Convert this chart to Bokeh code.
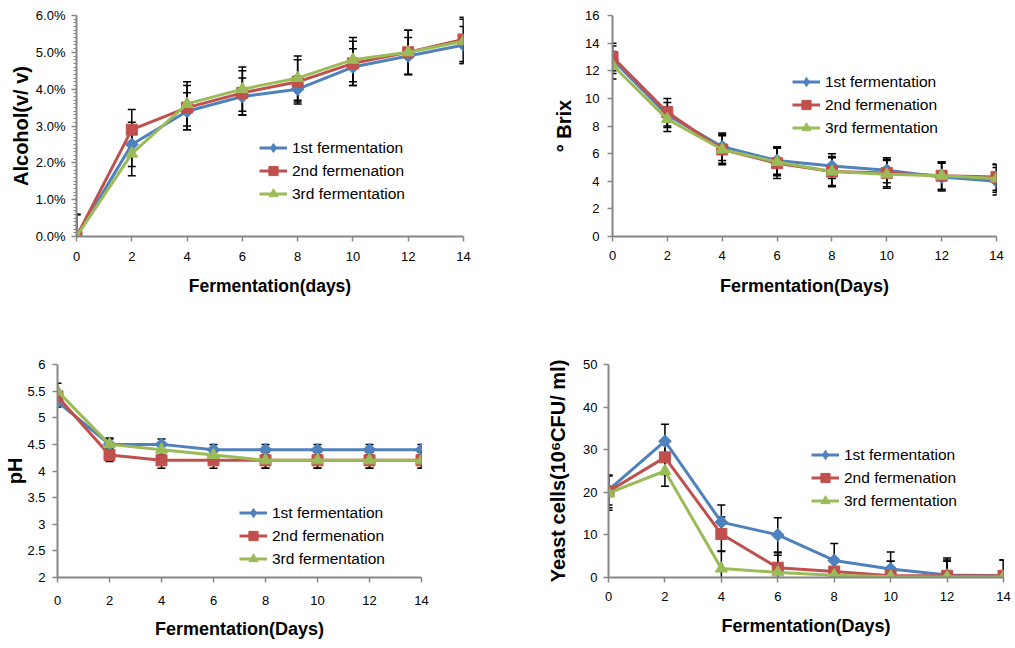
import math
from bokeh.plotting import figure
from bokeh.layouts import column, row
from bokeh.models import (Range1d, FixedTicker, SingleIntervalTicker, PrintfTickFormatter,
                          NumeralTickFormatter, ColumnDataSource)
from bokeh.embed import file_html
from bokeh.resources import INLINE

# ---------------- data ----------------
days = [0, 2, 4, 6, 8, 10, 12, 14]
series_names = ["1st fermentation", "2nd fermenation", "3rd fermentation"]

alcohol_1 = [0.0, 2.5, 3.4, 3.8, 4.0, 4.6, 4.9, 5.2]
alcohol_2 = [0.0, 2.9, 3.5, 3.9, 4.2, 4.7, 5.0, 5.35]
alcohol_3 = [0.0, 2.25, 3.6, 4.0, 4.3, 4.8, 5.0, 5.3]
alcohol_err_1 = [0.6, 0.6, 0.5, 0.5, 0.35, 0.5, 0.5, 0.5]
alcohol_err_2 = [0.6, 0.55, 0.6, 0.6, 0.6, 0.6, 0.6, 0.6]
alcohol_err_3 = [0.6, 0.6, 0.6, 0.6, 0.6, 0.6, 0.6, 0.6]

brix_1 = [12.8, 8.8, 6.5, 5.5, 5.1, 4.8, 4.3, 4.0]
brix_2 = [13.0, 9.0, 6.3, 5.3, 4.7, 4.6, 4.4, 4.3]
brix_3 = [12.4, 8.5, 6.3, 5.4, 4.7, 4.5, 4.4, 4.2]
brix_err_1 = [1.0, 0.9, 1.0, 1.0, 0.9, 0.9, 1.0, 1.0]
brix_err_2 = [1.0, 1.0, 1.1, 1.1, 1.1, 1.0, 1.0, 0.95]
brix_err_3 = [1.0, 0.9, 1.0, 1.0, 1.0, 1.0, 1.0, 1.0]

ph_1 = [5.3, 4.5, 4.5, 4.4, 4.4, 4.4, 4.4, 4.4]
ph_2 = [5.4, 4.3, 4.2, 4.2, 4.2, 4.2, 4.2, 4.2]
ph_3 = [5.5, 4.5, 4.4, 4.3, 4.2, 4.2, 4.2, 4.2]
ph_err_1 = [0.1, 0.1, 0.1, 0.1, 0.1, 0.1, 0.1, 0.1]
ph_err_2 = [0.1, 0.12, 0.15, 0.15, 0.15, 0.15, 0.15, 0.15]
ph_err_3 = [0.15, 0.12, 0.1, 0.1, 0.15, 0.15, 0.15, 0.15]

yeast_1 = [20.5, 32.0, 13.0, 10.0, 4.0, 2.0, 0.6, 0.4]
yeast_2 = [20.2, 28.2, 10.2, 2.3, 1.4, 0.4, 0.4, 0.4]
yeast_3 = [19.8, 25.0, 2.1, 1.2, 0.5, 0.2, 0.1, 0.1]
yeast_err_1 = [3.5, 4.0, 4.0, 4.0, 4.0, 4.0, 4.0, 3.7]
yeast_err_2 = [3.8, 4.0, 4.0, 3.5, 3.0, 3.4, 3.4, 3.7]
yeast_err_3 = [4.0, 3.6, 4.0, 4.0, 4.0, 3.6, 4.0, 4.0]

# ---------------- style ----------------
COLORS = ["#4F81BD", "#C0504D", "#9BBB59"]
MARKERS = ["square", "square", "triangle"]          # drawn in the plot
LEGEND_MARKERS = ["diamond", "square", "triangle"]  # drawn in the legend
ANGLES = [math.pi / 4, 0.0, 0.0]
MSIZES = [9, 11, 12]
AXIS_GREY = "#868686"
FONT = "Liberation Sans"


def panel(width, height, borders, y_range, y_interval, y_title, x_title, x_title_size,
          values, errors, legend_xy, y_fmt=None, minor=0,
          y_label_standoff=6, y_title_standoff=5, x_label_standoff=9, x_title_standoff=10):
    l, r, t, b = borders
    p = figure(width=width, height=height, x_range=Range1d(0, 14), y_range=Range1d(*y_range),
               output_backend="svg", toolbar_location=None,
               min_border_left=l, min_border_right=r, min_border_top=t, min_border_bottom=b)
    p.outline_line_color = None
    p.background_fill_color = "white"
    p.border_fill_color = "white"
    p.grid.visible = False

    p.xaxis.ticker = FixedTicker(ticks=days)
    p.yaxis.ticker = SingleIntervalTicker(interval=y_interval, num_minor_ticks=minor)
    if y_fmt is not None:
        p.yaxis.formatter = y_fmt

    for ax in (p.xaxis[0], p.yaxis[0]):
        ax.axis_line_color = AXIS_GREY
        ax.axis_line_width = 2
        ax.major_tick_line_color = AXIS_GREY
        ax.major_tick_line_width = 1.5
        ax.major_tick_in = 0
        ax.major_tick_out = 5
        ax.major_label_text_font = FONT
        ax.major_label_text_font_size = "13px"
        ax.major_label_text_color = "#000000"
        ax.axis_label_text_color = "#000000"
        ax.axis_label_text_font_style = "bold"
        ax.axis_label_text_font = FONT
    p.xaxis.minor_tick_line_color = None
    if minor:
        p.yaxis.minor_tick_line_color = AXIS_GREY
        p.yaxis.minor_tick_line_width = 1
        p.yaxis.minor_tick_in = 0
        p.yaxis.minor_tick_out = 3
    else:
        p.yaxis.minor_tick_line_color = None

    p.xaxis.axis_label = x_title
    p.xaxis.axis_label_text_font_size = x_title_size
    p.xaxis.major_label_standoff = x_label_standoff
    p.xaxis.axis_label_standoff = x_title_standoff

    p.yaxis.axis_label = y_title
    p.yaxis.axis_label_text_font_size = "20px"
    p.yaxis.major_label_standoff = y_label_standoff
    p.yaxis.axis_label_standoff = y_title_standoff

    sources = []
    for vals, errs in zip(values, errors):
        src = ColumnDataSource(dict(
            x=days, y=vals,
            top=[v + e for v, e in zip(vals, errs)],
            bot=[v - e for v, e in zip(vals, errs)]))
        sources.append(src)
        p.segment(x0="x", y0="bot", x1="x", y1="top", source=src,
                  line_color="black", line_width=1.5)
        p.scatter("x", "top", marker="dash", size=8, source=src,
                  line_color="black", line_width=1.5)
        p.scatter("x", "bot", marker="dash", size=8, source=src,
                  line_color="black", line_width=1.5)

    for src, name, c, m, lm, s, a in zip(sources, series_names, COLORS, MARKERS,
                                         LEGEND_MARKERS, MSIZES, ANGLES):
        p.line("x", "y", source=src, line_color=c, line_width=3, legend_label=name)
        p.scatter("x", "y", source=src, marker=m, size=s, angle=a, fill_color=c, line_color=c)
        # hidden renderer used only for the legend swatch
        p.scatter("x", "y", source=src, marker=lm, size=s, fill_color=c, line_color=c,
                  legend_label=name, visible=False)

    lg = p.legend[0]
    lg.location = legend_xy
    lg.background_fill_alpha = 0
    lg.border_line_color = None
    lg.inactive_fill_alpha = 0
    lg.padding = 0
    lg.margin = 0
    lg.spacing = 0
    lg.glyph_width = 28
    lg.glyph_height = 23
    lg.label_height = 23
    lg.label_standoff = 5
    lg.label_text_font = FONT
    lg.label_text_font_size = "15.5px"
    lg.label_text_color = "#000000"
    return p


W1, W2 = 510, 502
H1, H2 = 326, 319

p1 = panel(W1, H1, (76, 47, 15, 90), (0, 6), 1, "Alcohol(v/ v)", "Fermentation(days)", "17.5px",
           [alcohol_1, alcohol_2, alcohol_3], [alcohol_err_1, alcohol_err_2, alcohol_err_3],
           (183, 31), y_fmt=PrintfTickFormatter(format="%.1f%%"), minor=10,
           y_label_standoff=6, y_title_standoff=1, x_label_standoff=10, x_title_standoff=12)

p2 = panel(W2, H1, (102, 16, 15, 90), (0, 16), 2, "° Brix", "Fermentation(Days)", "18px",
           [brix_1, brix_2, brix_3], [brix_err_1, brix_err_2, brix_err_3],
           (180, 97), y_label_standoff=8, y_title_standoff=7,
           x_label_standoff=9, x_title_standoff=13)

p3 = panel(W1, H2, (57, 89, 38, 68), (2, 6), 0.5, "pH", "Fermentation(Days)", "18px",
           [ph_1, ph_2, ph_3], [ph_err_1, ph_err_2, ph_err_3],
           (182, 7), y_fmt=NumeralTickFormatter(format="0.[0]"),
           y_label_standoff=7, y_title_standoff=-2, x_label_standoff=13, x_title_standoff=11)

p4 = panel(W2, H2, (98, 9, 38, 68), (0, 50), 10, "Yeast cells(10⁶CFU/ ml)", "Fermentation(Days)", "18px",
           [yeast_1, yeast_2, yeast_3], [yeast_err_1, yeast_err_2, yeast_err_3],
           (203, 65), y_label_standoff=6, y_title_standoff=11,
           x_label_standoff=9, x_title_standoff=12)

layout = column(row(p1, p2), row(p3, p4))

open("out.html", "w").write(file_html(layout, INLINE))
